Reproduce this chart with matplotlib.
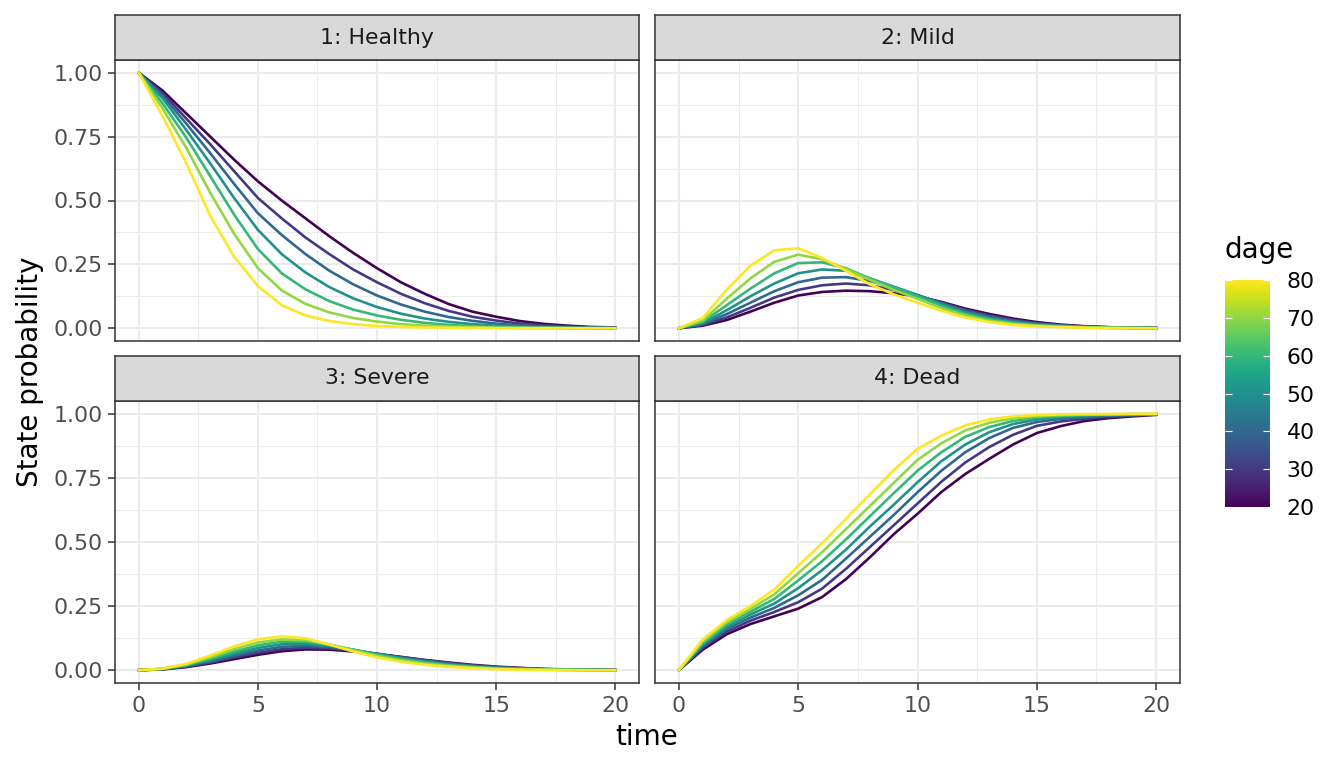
import matplotlib
matplotlib.use("Agg")
import matplotlib.pyplot as plt
import matplotlib as mpl
from matplotlib.ticker import MultipleLocator

plt.rcParams['font.family'] = ['DejaVu Sans']

times = list(range(21))
ages = [20, 30, 40, 50, 60, 70, 80]
panel_titles = ["1: Healthy", "2: Mild", "3: Severe", "4: Dead"]

# state probabilities, one row per age (20 ... 80), t = 0..20
healthy = [
    [1.0, 0.93, 0.84, 0.75, 0.66, 0.575, 0.50, 0.43, 0.36, 0.295, 0.235, 0.18, 0.135, 0.095, 0.065, 0.045, 0.028, 0.017, 0.01, 0.005, 0.003],
    [1.0, 0.92, 0.82, 0.72, 0.615, 0.51, 0.43, 0.355, 0.29, 0.23, 0.18, 0.135, 0.098, 0.068, 0.045, 0.03, 0.018, 0.011, 0.006, 0.003, 0.002],
    [1.0, 0.91, 0.80, 0.685, 0.565, 0.45, 0.365, 0.29, 0.225, 0.172, 0.128, 0.093, 0.065, 0.044, 0.029, 0.018, 0.011, 0.006, 0.003, 0.002, 0.001],
    [1.0, 0.90, 0.775, 0.645, 0.51, 0.385, 0.29, 0.218, 0.161, 0.117, 0.083, 0.057, 0.038, 0.025, 0.016, 0.01, 0.006, 0.003, 0.002, 0.001, 0.0],
    [1.0, 0.88, 0.745, 0.595, 0.445, 0.31, 0.215, 0.152, 0.106, 0.073, 0.05, 0.033, 0.021, 0.013, 0.008, 0.005, 0.003, 0.002, 0.001, 0.0, 0.0],
    [1.0, 0.86, 0.705, 0.53, 0.37, 0.235, 0.148, 0.095, 0.062, 0.04, 0.026, 0.016, 0.01, 0.006, 0.004, 0.002, 0.001, 0.001, 0.0, 0.0, 0.0],
    [1.0, 0.83, 0.645, 0.44, 0.28, 0.165, 0.09, 0.05, 0.028, 0.016, 0.009, 0.005, 0.003, 0.002, 0.001, 0.0, 0.0, 0.0, 0.0, 0.0, 0.0],
]

mild = [
    [0.0, 0.01, 0.032, 0.065, 0.10, 0.128, 0.142, 0.147, 0.145, 0.137, 0.125, 0.103, 0.077, 0.056, 0.038, 0.024, 0.014, 0.008, 0.004, 0.002, 0.001],
    [0.0, 0.013, 0.042, 0.08, 0.12, 0.15, 0.168, 0.175, 0.168, 0.15, 0.128, 0.10, 0.073, 0.05, 0.033, 0.02, 0.012, 0.007, 0.004, 0.002, 0.001],
    [0.0, 0.016, 0.055, 0.10, 0.145, 0.18, 0.198, 0.20, 0.185, 0.16, 0.13, 0.098, 0.068, 0.045, 0.029, 0.017, 0.01, 0.006, 0.003, 0.001, 0.001],
    [0.0, 0.02, 0.07, 0.125, 0.175, 0.215, 0.23, 0.225, 0.195, 0.163, 0.13, 0.095, 0.063, 0.04, 0.025, 0.015, 0.009, 0.005, 0.002, 0.001, 0.0],
    [0.0, 0.025, 0.09, 0.155, 0.215, 0.255, 0.258, 0.235, 0.195, 0.16, 0.125, 0.088, 0.056, 0.035, 0.021, 0.012, 0.007, 0.004, 0.002, 0.001, 0.0],
    [0.0, 0.03, 0.115, 0.195, 0.26, 0.288, 0.27, 0.232, 0.19, 0.15, 0.115, 0.079, 0.05, 0.03, 0.017, 0.01, 0.006, 0.003, 0.001, 0.001, 0.0],
    [0.0, 0.04, 0.15, 0.245, 0.305, 0.313, 0.275, 0.225, 0.172, 0.133, 0.10, 0.068, 0.042, 0.024, 0.013, 0.007, 0.004, 0.002, 0.001, 0.0, 0.0],
]

severe = [
    [0.0, 0.003, 0.012, 0.026, 0.043, 0.06, 0.074, 0.081, 0.08, 0.073, 0.063, 0.052, 0.04, 0.03, 0.021, 0.014, 0.009, 0.005, 0.003, 0.002, 0.001],
    [0.0, 0.004, 0.014, 0.03, 0.05, 0.068, 0.082, 0.088, 0.085, 0.076, 0.064, 0.051, 0.039, 0.028, 0.019, 0.012, 0.008, 0.004, 0.002, 0.001, 0.001],
    [0.0, 0.004, 0.016, 0.034, 0.056, 0.077, 0.091, 0.095, 0.09, 0.078, 0.064, 0.05, 0.037, 0.026, 0.017, 0.011, 0.007, 0.004, 0.002, 0.001, 0.0],
    [0.0, 0.005, 0.018, 0.039, 0.064, 0.087, 0.101, 0.103, 0.095, 0.08, 0.063, 0.047, 0.034, 0.023, 0.015, 0.009, 0.006, 0.003, 0.002, 0.001, 0.0],
    [0.0, 0.005, 0.02, 0.044, 0.072, 0.097, 0.111, 0.111, 0.099, 0.08, 0.06, 0.044, 0.03, 0.02, 0.013, 0.008, 0.005, 0.003, 0.001, 0.001, 0.0],
    [0.0, 0.006, 0.022, 0.05, 0.082, 0.108, 0.12, 0.117, 0.101, 0.078, 0.056, 0.039, 0.026, 0.017, 0.011, 0.006, 0.003, 0.002, 0.001, 0.0, 0.0],
    [0.0, 0.006, 0.025, 0.057, 0.093, 0.12, 0.132, 0.124, 0.10, 0.073, 0.05, 0.033, 0.021, 0.013, 0.008, 0.004, 0.002, 0.001, 0.0, 0.0, 0.0],
]

dead = [
    [0.0, 0.08, 0.14, 0.18, 0.21, 0.24, 0.285, 0.355, 0.44, 0.53, 0.61, 0.695, 0.765, 0.824, 0.88, 0.925, 0.952, 0.972, 0.983, 0.99, 0.996],
    [0.0, 0.087, 0.15, 0.193, 0.227, 0.265, 0.318, 0.395, 0.48, 0.565, 0.65, 0.735, 0.81, 0.87, 0.918, 0.953, 0.97, 0.981, 0.988, 0.993, 0.997],
    [0.0, 0.093, 0.16, 0.205, 0.243, 0.292, 0.352, 0.435, 0.52, 0.605, 0.694, 0.778, 0.85, 0.905, 0.945, 0.968, 0.98, 0.987, 0.992, 0.995, 0.998],
    [0.0, 0.10, 0.168, 0.217, 0.26, 0.32, 0.39, 0.47, 0.56, 0.645, 0.733, 0.815, 0.88, 0.928, 0.96, 0.978, 0.987, 0.992, 0.995, 0.997, 0.998],
    [0.0, 0.105, 0.177, 0.228, 0.278, 0.35, 0.425, 0.51, 0.60, 0.69, 0.778, 0.85, 0.91, 0.948, 0.972, 0.985, 0.992, 0.995, 0.997, 0.998, 0.999],
    [0.0, 0.112, 0.186, 0.239, 0.296, 0.378, 0.46, 0.55, 0.64, 0.73, 0.82, 0.885, 0.935, 0.965, 0.982, 0.991, 0.995, 0.997, 0.998, 0.999, 1.0],
    [0.0, 0.12, 0.195, 0.25, 0.315, 0.407, 0.495, 0.59, 0.685, 0.78, 0.863, 0.915, 0.955, 0.978, 0.99, 0.995, 0.998, 0.999, 0.999, 1.0, 1.0],
]

states = [healthy, mild, severe, dead]

cmap = plt.get_cmap('viridis')
norm = mpl.colors.Normalize(vmin=20, vmax=80)

fig = plt.figure(figsize=(13.44, 7.68), dpi=100)

W, H = 1344.0, 768.0
# panel boxes in pixels: (left, top, right, bottom)
boxes = [(115, 60, 639, 341), (655, 60, 1180, 341),
         (115, 401, 639, 683), (655, 401, 1180, 683)]
strip_h = 45

grid_col = '#EBEBEB'
border_col = '#333333'
tick_size = 15.8
title_size = 20

for i, (l, t, r, b) in enumerate(boxes):
    ax = fig.add_axes([l / W, 1 - b / H, (r - l) / W, (b - t) / H])
    for k, age in enumerate(ages):
        ax.plot(times, states[i][k], color=cmap(norm(age)), lw=1.9, zorder=3)
    ax.set_xlim(-1, 21)
    ax.set_ylim(-0.05, 1.05)
    ax.xaxis.set_major_locator(MultipleLocator(5))
    ax.xaxis.set_minor_locator(MultipleLocator(2.5))
    ax.yaxis.set_major_locator(MultipleLocator(0.25))
    ax.yaxis.set_minor_locator(MultipleLocator(0.125))
    ax.grid(which='major', color=grid_col, lw=1.5, zorder=0)
    ax.grid(which='minor', color=grid_col, lw=0.75, zorder=0)
    ax.set_axisbelow(True)
    for sp in ax.spines.values():
        sp.set_color(border_col)
        sp.set_linewidth(1.1)
    ax.tick_params(which='minor', length=0)
    ax.tick_params(which='major', length=5, color=border_col, width=1.1, pad=4,
                   labelsize=tick_size, labelcolor='#4D4D4D')
    if i < 2:
        ax.tick_params(axis='x', length=0, labelbottom=False)
    if i % 2 == 1:
        ax.tick_params(axis='y', length=0, labelleft=False)
    else:
        ax.set_yticks([0, 0.25, 0.5, 0.75, 1.0])
        ax.set_yticklabels(['0.00', '0.25', '0.50', '0.75', '1.00'])

    # facet strip
    sax = fig.add_axes([l / W, 1 - t / H, (r - l) / W, strip_h / H])
    sax.set_facecolor('#D9D9D9')
    sax.set_xticks([])
    sax.set_yticks([])
    for sp in sax.spines.values():
        sp.set_color(border_col)
        sp.set_linewidth(1.1)
    sax.text(0.5, 0.5, panel_titles[i], ha='center', va='center',
             fontsize=tick_size, color='#1A1A1A', transform=sax.transAxes)

fig.text(647 / W, 1 - 737 / H, 'time', ha='center', va='center', fontsize=title_size)
fig.text(30 / W, 1 - 372 / H, 'State probability', ha='center', va='center',
         rotation=90, fontsize=title_size)

# colour bar legend
cax = fig.add_axes([1225 / W, 1 - 507 / H, 45 / W, 227 / H])
cb = mpl.colorbar.ColorbarBase(cax, cmap=cmap, norm=norm, ticks=ages)
cb.outline.set_visible(False)
cax.yaxis.set_ticks_position('both')
cax.tick_params(direction='in', color='white', length=5, width=0.8,
                labelleft=False, labelright=True, labelsize=tick_size, pad=12)
fig.text(1225 / W, 1 - 250 / H, 'dage', ha='left', va='center', fontsize=title_size)

fig.savefig('out.png', dpi=100)
